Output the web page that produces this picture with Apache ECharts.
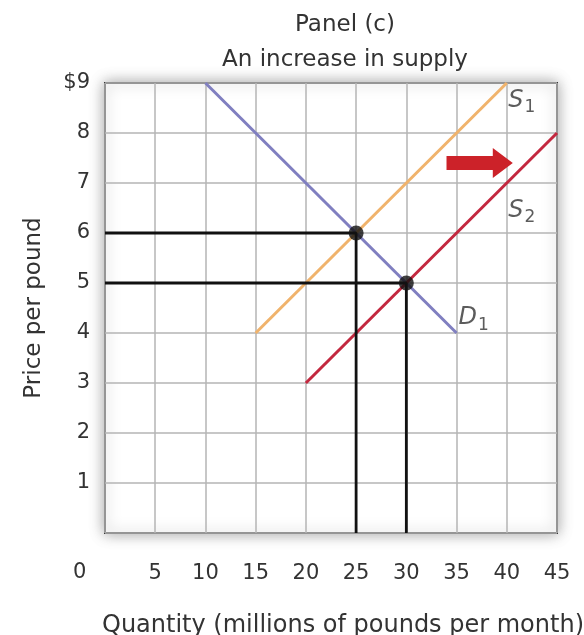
<!DOCTYPE html>
<html>
<head>
<meta charset="utf-8">
<script src="https://cdn.jsdelivr.net/npm/echarts@6/dist/echarts.min.js"></script>
<style>
  html, body { margin: 0; padding: 0; background: #fff; }
  #chart { width: 584px; height: 635px; }
</style>
</head>
<body>
<div id="chart"></div>
<script>
const demand = [[10, 9], [35, 4]];
const supply1 = [[15, 4], [40, 9]];
const supply2 = [[20, 3], [45, 8]];
const equilibria = [[25, 6], [30, 5]];
const guideOld = [[0, 6], [25, 6], [25, 0]];
const guideNew = [[0, 5], [30, 5], [30, 0]];
const shiftArrow = [[34, 7.4, 40.6, 7.4]];
const curveNames = [
  { name: 'S', sub: '1', value: [41.5, 8.65] },
  { name: 'S', sub: '2', value: [41.5, 6.45] },
  { name: 'D', sub: '1', value: [36.7, 4.3] }
];

const font = 'DejaVu Sans';
const myChart = echarts.init(document.getElementById('chart'));

const option = {
  backgroundColor: '#fff',
  animation: false,
  textStyle: { fontFamily: font },
  title: {
    text: 'Panel (c)\nAn increase in supply',
    left: 340,
    top: 3,
    textAlign: 'center',
    textStyle: { fontFamily: font, fontSize: 23, fontWeight: 'normal', color: '#333', lineHeight: 35 }
  },
  grid: {
    left: 105, right: 27, top: 83, bottom: 102,
    outerBoundsMode: 'none',
    containLabel: false,
    show: true,
    backgroundColor: '#fff',
    borderColor: '#3a3a3a',
    borderWidth: 2,
    shadowBlur: 14,
    shadowColor: 'rgba(0,0,0,0.35)'
  },
  xAxis: {
    type: 'value', min: 0, max: 45, interval: 5,
    name: 'Quantity (millions of pounds per month)',
    nameLocation: 'middle',
    nameGap: 81,
    nameTextStyle: { fontFamily: font, fontSize: 24, color: '#333', padding: [0, 0, 0, 24] },
    axisLine: { show: false },
    axisTick: { show: false },
    axisLabel: {
      margin: 30, fontSize: 21, color: '#333',
      formatter: v => (v === 0 ? '' : String(v))
    },
    splitLine: { show: true, lineStyle: { color: '#b4b4b4', width: 1.5 } }
  },
  yAxis: {
    type: 'value', min: 0, max: 9, interval: 1,
    name: 'Price per pound',
    nameLocation: 'middle',
    nameGap: 59,
    nameTextStyle: { fontFamily: font, fontSize: 23, color: '#333' },
    axisLine: { show: false },
    axisTick: { show: false },
    axisLabel: {
      margin: 15, fontSize: 21, color: '#333',
      formatter: v => (v === 0 ? '' : v === 9 ? '$9' : String(v))
    },
    splitLine: { show: true, lineStyle: { color: '#b4b4b4', width: 1.5 } }
  },
  graphic: [{
    type: 'text', left: 73, top: 562,
    style: { text: '0', font: '21px "DejaVu Sans"', fill: '#333' }
  }],
  series: [
    {
      name: 'D1', type: 'line', data: demand, symbol: 'none',
      lineStyle: { color: '#807fc0', width: 3 }, z: 3
    },
    {
      name: 'S1', type: 'line', data: supply1, symbol: 'none',
      lineStyle: { color: '#f0b36c', width: 3 }, z: 3
    },
    {
      name: 'S2', type: 'line', data: supply2, symbol: 'none',
      lineStyle: { color: '#c3283f', width: 3 }, z: 3
    },
    {
      type: 'line', data: guideOld, symbol: 'none',
      lineStyle: { color: '#111', width: 2.8 }, z: 4
    },
    {
      type: 'line', data: guideNew, symbol: 'none',
      lineStyle: { color: '#111', width: 2.8 }, z: 4
    },
    {
      type: 'scatter', data: equilibria, symbol: 'circle', symbolSize: 15,
      itemStyle: { color: '#111' }, z: 5
    },
    {
      type: 'custom',
      data: shiftArrow,
      encode: { x: [0, 2], y: [1, 3] },
      z: 5,
      renderItem: (params, api) => {
        const a = api.coord([api.value(0), api.value(1)]);
        const b = api.coord([api.value(2), api.value(3)]);
        const body = 7, head = 15, headLen = 20;
        const hx = b[0] - headLen;
        return {
          type: 'polygon',
          shape: {
            points: [
              [a[0], a[1] - body], [hx, a[1] - body], [hx, a[1] - head],
              [b[0], b[1]], [hx, a[1] + head], [hx, a[1] + body], [a[0], a[1] + body]
            ]
          },
          style: { fill: '#cc2229' }
        };
      }
    },
    {
      type: 'scatter',
      data: curveNames,
      symbolSize: 0,
      z: 6,
      label: {
        show: true,
        position: 'inside',
        formatter: p => '{m|' + p.data.name + '}{s|' + p.data.sub + '}',
        rich: {
          m: { fontFamily: font, fontSize: 24, fontStyle: 'italic', color: '#333', lineHeight: 32 },
          s: { fontFamily: font, fontSize: 17, color: '#333', lineHeight: 32, verticalAlign: 'bottom', padding: [13, 0, 0, 1] }
        }
      }
    }
  ]
};

myChart.setOption(option);
</script>
</body>
</html>
